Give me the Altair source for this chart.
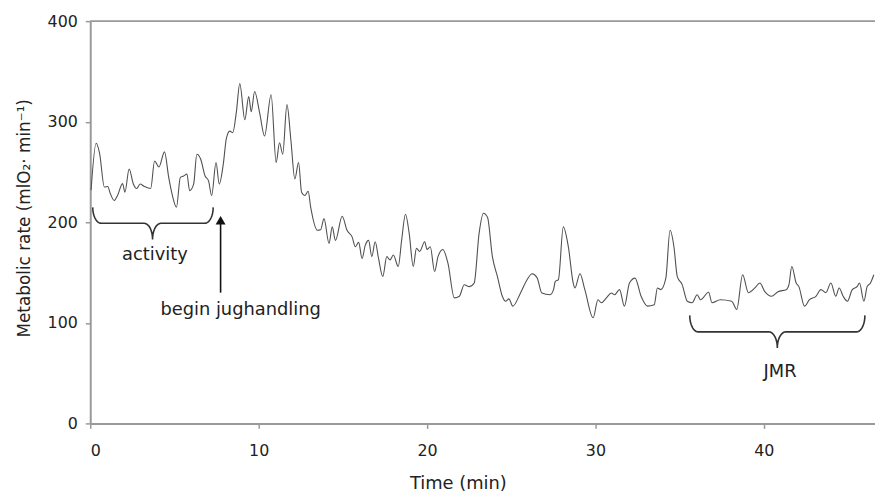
import altair as alt
import numpy as np
import pandas as pd

# ---- data ----
time_min = [0.05, 0.35, 0.55, 0.84, 1.04, 1.19, 1.43, 1.62, 1.92, 2.06, 2.31, 2.56, 2.76, 2.96, 3.19,
            3.59, 3.82, 4.08, 4.41, 4.66, 4.86, 5.12, 5.35, 5.55, 5.74, 5.90, 6.14, 6.33, 6.56, 6.82,
            7.02, 7.21, 7.47, 7.66, 7.90, 8.09, 8.29, 8.46, 8.68, 8.88, 9.18, 9.41, 9.56, 9.76, 10.06,
            10.35, 10.74, 11.04, 11.24, 11.43, 11.68, 11.92, 12.15, 12.37, 12.55, 12.74, 12.94, 13.09,
            13.49, 13.68, 13.88, 14.18, 14.37, 14.56, 14.96, 15.25, 15.55, 15.74, 15.94, 16.14, 16.33,
            16.53, 16.72, 16.92, 17.12, 17.37, 17.61, 17.80, 18.00, 18.29, 18.49, 18.72, 18.94, 19.18,
            19.37, 19.56, 19.86, 20.00, 20.19, 20.45, 20.65, 20.94, 21.24, 21.62, 21.92, 22.21, 22.51,
            22.80, 23.09, 23.35, 23.59, 23.88, 24.18, 24.47, 24.66, 24.86, 25.09, 25.55, 25.94, 26.24,
            26.53, 26.82, 27.31, 27.51, 27.61, 27.80, 28.09, 28.39, 28.68, 28.78, 29.08, 29.37, 29.86,
            30.15, 30.35, 30.65, 30.94, 31.14, 31.43, 31.72, 32.02, 32.35, 32.71, 33.09, 33.49, 33.68,
            33.88, 34.18, 34.43, 34.66, 34.86, 35.15, 35.45, 35.74, 36.04, 36.24, 36.72, 36.92, 37.41,
            38.09, 38.39, 38.74, 39.08, 39.47, 39.76, 40.06, 40.45, 40.84, 41.33, 41.49, 41.66, 41.92,
            42.08, 42.41, 42.71, 43.09, 43.39, 43.68, 43.98, 44.27, 44.47, 44.71, 44.96, 45.25, 45.55,
            45.68, 45.94, 46.14, 46.33, 46.53]
metabolic_rate = [232, 278.5, 269, 235, 235.5, 228.6, 221.7, 226.6, 238.4, 230, 253, 238, 233.5, 238, 235.8,
                  233.5, 261, 255, 270, 244.6, 228, 215, 244.6, 246, 248, 231.5, 238, 267.6, 262.7, 246,
                  241.4, 226.6, 259.4, 238, 257.8, 284, 290.6, 289, 310, 338, 302, 325, 310, 330, 308.7,
                  285.7, 326.8, 259.4, 279, 267.7, 317, 280.8, 243, 259.4, 229.9, 226.6, 230.8, 215,
                  192, 192.5, 203.6, 179, 195.4, 182, 206, 192, 185.5, 175.7, 180, 164, 177,
                  182, 165.8, 180.6, 164, 146, 165.8, 162.6, 167.5, 156, 182, 207.9, 188.9, 156,
                  174, 171, 180.6, 173, 175.7, 151, 165.8, 173, 159.3, 124.8, 126.5, 137.9, 136,
                  139.6, 188.9, 209, 205, 165.8, 146, 126.4, 121.5, 123.8, 116.6, 129.7, 142.9, 148.8,
                  145, 129.7, 128, 133, 141, 143, 195.4, 175.7, 139.6, 134.7, 148.8, 133, 105,
                  123, 120, 124.8, 129.7, 128, 133, 116.6, 139.6, 144.5, 126.4, 116.6, 118, 134.7,
                  133, 144.5, 192, 175.7, 146, 138, 121.5, 120, 128, 123, 130.4, 120, 123,
                  121.5, 113.3, 147.8, 130, 134.7, 139.6, 131, 126.4, 131, 133, 138, 156, 139.6,
                  136, 116.6, 123, 126.4, 133, 130, 139.6, 126.4, 134.7, 126.4, 121.5, 133, 136.3,
                  139.6, 121.5, 136.3, 139.6, 147.8]

x_ticks = [0, 10, 20, 30, 40]
y_ticks = [0, 100, 200, 300, 400]

label_text = ["activity", "begin jughandling", "JMR"]
label_time = [3.84, 8.93, 40.96]
label_value = [167.5, 113, 51]

# braces: start, end, middle (min); top, horizontal, cusp (rate)
brace_start = [0.15, 35.6]
brace_end = [7.3, 46.0]
brace_mid = [3.7, 40.8]
brace_top = [214.8, 107.4]
brace_flat = [199, 91]
brace_cusp = [183, 75]

arrow_time = 7.74
arrow_from = 130
arrow_to = 200
arrow_tip = 202

X_MAX = 46.6
FONT = "DejaVu Sans"

df = pd.DataFrame({"t": time_min, "v": metabolic_rate})


def brace(x0, x1, xm, ytop, yh, yc, rx=0.5, n=12):
    pts = []
    s = np.linspace(0, np.pi / 2, n)
    for a in s:
        pts.append((x0 + rx * (1 - np.cos(a)), ytop - (ytop - yh) * np.sin(a)))
    for a in s:
        pts.append((xm - rx + rx * np.sin(a), yh - (yh - yc) * (1 - np.cos(a))))
    for a in s[::-1]:
        pts.append((xm + rx - rx * np.sin(a), yh - (yh - yc) * (1 - np.cos(a))))
    for a in s[::-1]:
        pts.append((x1 - rx * (1 - np.cos(a)), ytop - (ytop - yh) * np.sin(a)))
    return pts


rows = []
for i in range(len(brace_start)):
    for k, (x, y) in enumerate(brace(brace_start[i], brace_end[i], brace_mid[i],
                                     brace_top[i], brace_flat[i], brace_cusp[i])):
        rows.append({"b": i, "o": k, "t": x, "v": y})
brace_df = pd.DataFrame(rows)

xscale = alt.Scale(domain=[0, X_MAX], nice=False, zero=False)
yscale = alt.Scale(domain=[0, 400], nice=False)

line = alt.Chart(df).mark_line(color="#505050", strokeWidth=1.1, clip=True,
                               interpolate="monotone").encode(
    x=alt.X("t:Q", scale=xscale,
            axis=alt.Axis(values=x_ticks, title="Time (min)", grid=False,
                          titleX=371, titleY=61, titleBaseline="middle", titleAlign="center")),
    y=alt.Y("v:Q", scale=yscale,
            axis=alt.Axis(values=y_ticks, title="Metabolic rate (mlO₂· min⁻¹)", grid=False,
                          titleX=-66.5, titleY=198.5, titleAngle=-90,
                          titleBaseline="middle", titleAlign="center")),
)

top_rule = alt.Chart(pd.DataFrame({"v": [400]})).mark_rule(color="#999999", strokeWidth=2).encode(
    y=alt.Y("v:Q", scale=yscale)
)

braces = alt.Chart(brace_df).mark_line(color="#333333", strokeWidth=1.6).encode(
    x="t:Q", y="v:Q", detail="b:N", order="o:Q"
)

arrow_line = alt.Chart(pd.DataFrame({"t": [arrow_time], "v": [arrow_from], "v2": [arrow_to]})).mark_rule(
    color="#111111", strokeWidth=1.6).encode(x="t:Q", y="v:Q", y2="v2")

arrow_head = alt.Chart(pd.DataFrame({"t": [arrow_time], "v": [arrow_tip]})).mark_point(
    shape="triangle-up", filled=True, size=100, color="#111111", opacity=1).encode(x="t:Q", y="v:Q")

labels = alt.Chart(pd.DataFrame({"t": label_time, "v": label_value, "s": label_text})).mark_text(
    font=FONT, fontSize=18, color="#222222", baseline="middle", align="center").encode(
    x="t:Q", y="v:Q", text="s:N")

chart = alt.layer(top_rule, line, braces, arrow_line, arrow_head, labels).properties(
    width=792, height=406,
    autosize=alt.AutoSizeParams(type="none"),
    padding={"left": 83, "top": 11, "right": 0, "bottom": 70},
).configure_view(stroke=None).configure_axis(
    labelFont=FONT, titleFont=FONT, labelFontSize=16, titleFontSize=18,
    labelColor="#222222", titleColor="#222222", titleFontWeight="normal",
    domainColor="#999999", tickColor="#999999", domainWidth=2, tickWidth=1.5,
    tickSize=5,
).configure_axisX(labelPadding=14).configure_axisY(labelPadding=8, titleFontSize=17)

chart.save("out.html", embed_options={"renderer": "svg", "actions": False})
